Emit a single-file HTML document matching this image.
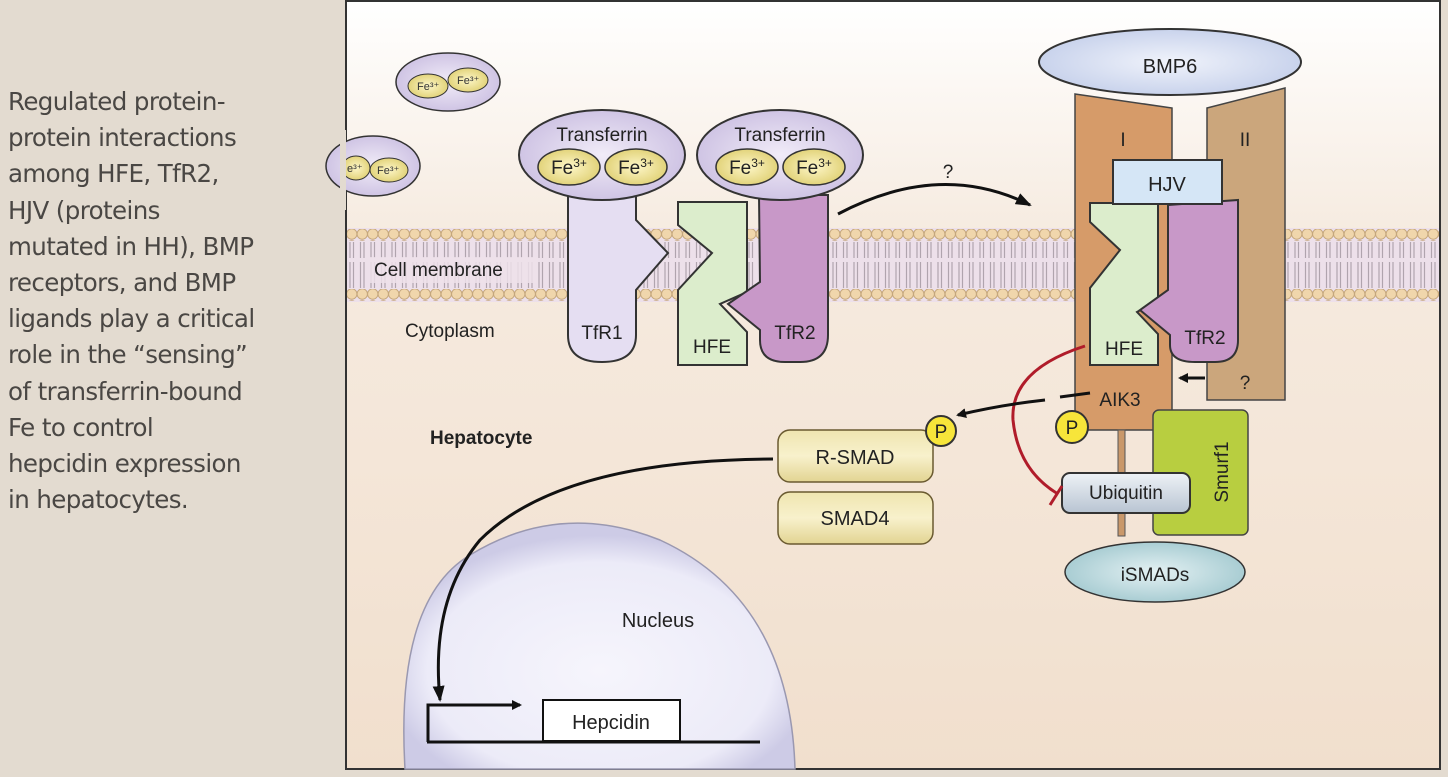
<!DOCTYPE html>
<html><head><meta charset="utf-8"><style>
body{margin:0;width:1448px;height:777px;background:#e3dbd0;overflow:hidden;position:relative;font-family:"Liberation Sans",sans-serif}
#t{position:absolute;left:8px;top:84px;font-size:24.5px;line-height:36.2px;color:#4a4744;font-family:"DejaVu Sans","Liberation Sans",sans-serif;letter-spacing:-0.6px}
svg{position:absolute;left:0;top:0}
</style></head><body>
<div id="t">Regulated protein-<br>protein interactions<br>among HFE, TfR2,<br>HJV (proteins<br>mutated in HH), BMP<br>receptors, and BMP<br>ligands play a critical<br>role in the “sensing”<br>of transferrin-bound<br>Fe to control<br>hepcidin expression<br>in hepatocytes.</div>
<svg width="1448" height="777" viewBox="0 0 1448 777" font-family="Liberation Sans, sans-serif">
<defs>
<linearGradient id="bg" x1="0" y1="0" x2="0" y2="1"><stop offset="0" stop-color="#fff"/><stop offset="0.3" stop-color="#f6ebe0"/><stop offset="1" stop-color="#f1dfcd"/></linearGradient>
<radialGradient id="lav"><stop offset="0" stop-color="#f1ecf8"/><stop offset="1" stop-color="#cfc4e4"/></radialGradient>
<radialGradient id="fe"><stop offset="0" stop-color="#fdf6c8"/><stop offset="1" stop-color="#e2d37a"/></radialGradient>
<radialGradient id="nuc" cx="0.5" cy="0.6" r="0.55"><stop offset="0" stop-color="#f6f5fc"/><stop offset="0.8" stop-color="#ecebf8"/><stop offset="1" stop-color="#cdcbe6"/></radialGradient>
<radialGradient id="bmp"><stop offset="0" stop-color="#f0f3fb"/><stop offset="1" stop-color="#c9d3ec"/></radialGradient>
<radialGradient id="ism"><stop offset="0" stop-color="#e4f1f3"/><stop offset="1" stop-color="#a9cdd3"/></radialGradient>
<linearGradient id="smad" x1="0" y1="0" x2="0" y2="1"><stop offset="0" stop-color="#efe5b0"/><stop offset="0.5" stop-color="#f8f1cc"/><stop offset="1" stop-color="#e2d492"/></linearGradient>
<linearGradient id="ub" x1="0" y1="0" x2="0" y2="1"><stop offset="0" stop-color="#eef2f6"/><stop offset="1" stop-color="#b8c4d2"/></linearGradient>
<pattern id="heads" width="10.5" height="12" patternUnits="userSpaceOnUse"><circle cx="5.25" cy="6" r="5.2" fill="#f0d6ac" stroke="#c4a67c" stroke-width="1"/></pattern>
<pattern id="tails" width="10.5" height="40" patternUnits="userSpaceOnUse"><path d="M3.5 0 L3.5 18 M7 0 L7 18 M3.5 22 L3.5 40 M7 22 L7 40" stroke="#b0a4ae" stroke-width="1.2"/></pattern>
<marker id="ah" markerWidth="10" markerHeight="10" refX="8" refY="5" orient="auto" markerUnits="userSpaceOnUse"><path d="M0 0 L10 5 L0 10 Z" fill="#111"/></marker>
<marker id="ahb" markerWidth="16" markerHeight="12" refX="14" refY="6" orient="auto" markerUnits="userSpaceOnUse"><path d="M0 0 L16 6 L0 12 Z" fill="#111"/></marker>
</defs>
<rect x="346" y="1" width="1094" height="768" fill="url(#bg)" stroke="#333" stroke-width="2"/>
<rect x="347" y="228" width="1092" height="74" fill="#ede0ea"/>
<rect x="347" y="242" width="1092" height="46" fill="url(#tails)"/>
<rect x="347" y="229" width="1092" height="12" fill="url(#heads)"/>
<rect x="347" y="289" width="1092" height="12" fill="url(#heads)"/>
<rect x="370" y="257" width="168" height="26" fill="#ede0ea" opacity="0.85"/>
<text x="374" y="276" font-size="19" fill="#222">Cell membrane</text>
<text x="405" y="337" font-size="19" fill="#222">Cytoplasm</text>
<text x="430" y="444" font-size="19" font-weight="bold" fill="#222">Hepatocyte</text>
<ellipse cx="448" cy="82" rx="52" ry="29" fill="url(#lav)" stroke="#333" stroke-width="1.5"/>
<ellipse cx="428" cy="86" rx="20" ry="12" fill="url(#fe)" stroke="#333"/><ellipse cx="468" cy="80" rx="20" ry="12" fill="url(#fe)" stroke="#333"/>
<text x="417" y="90" font-size="11" fill="#333">Fe³⁺</text><text x="457" y="84" font-size="11" fill="#333">Fe³⁺</text>
<ellipse cx="373" cy="166" rx="47" ry="30" fill="url(#lav)" stroke="#333" stroke-width="1.5"/>
<ellipse cx="356" cy="168" rx="14" ry="12" fill="url(#fe)" stroke="#333"/><ellipse cx="389" cy="170" rx="19" ry="12" fill="url(#fe)" stroke="#333"/>
<text x="347" y="172" font-size="11" fill="#333">e³⁺</text><text x="377" y="174" font-size="11" fill="#333">Fe³⁺</text>
<rect x="340" y="130" width="6" height="80" fill="#e3dbd0"/>
<path d="M568 190 L636 190 L636 220 L668 253 L636 290 L636 335 Q636 362 602 362 Q568 362 568 335 Z" fill="#e5def2" stroke="#333" stroke-width="2"/>
<text x="602" y="339" font-size="19" text-anchor="middle" fill="#222">TfR1</text>
<ellipse cx="602" cy="155" rx="83" ry="45" fill="url(#lav)" stroke="#333" stroke-width="2"/>
<text x="602" y="141" font-size="19" text-anchor="middle" fill="#222">Transferrin</text>
<ellipse cx="569" cy="167" rx="31" ry="18" fill="url(#fe)" stroke="#333" stroke-width="1.5"/><ellipse cx="636" cy="167" rx="31" ry="18" fill="url(#fe)" stroke="#333" stroke-width="1.5"/>
<text x="569" y="174" font-size="19" text-anchor="middle" fill="#222">Fe<tspan font-size="12" dy="-7">3+</tspan></text>
<text x="636" y="174" font-size="19" text-anchor="middle" fill="#222">Fe<tspan font-size="12" dy="-7">3+</tspan></text>
<path d="M678 202 L747 202 L747 292 L720 304 L747 332 L747 365 L678 365 L678 290 L712 253 L678 225 Z" fill="#dcedcc" stroke="#333" stroke-width="2"/>
<text x="712" y="353" font-size="19" text-anchor="middle" fill="#222">HFE</text>
<path d="M759 195 L828 195 L828 335 Q828 362 800 362 L785 362 Q760 362 760 340 L760 330 L728 304 L760 282 Z" fill="#c898c8" stroke="#333" stroke-width="2"/>
<text x="795" y="339" font-size="19" text-anchor="middle" fill="#222">TfR2</text>
<ellipse cx="780" cy="155" rx="83" ry="45" fill="url(#lav)" stroke="#333" stroke-width="2"/>
<text x="780" y="141" font-size="19" text-anchor="middle" fill="#222">Transferrin</text>
<ellipse cx="747" cy="167" rx="31" ry="18" fill="url(#fe)" stroke="#333" stroke-width="1.5"/><ellipse cx="814" cy="167" rx="31" ry="18" fill="url(#fe)" stroke="#333" stroke-width="1.5"/>
<text x="747" y="174" font-size="19" text-anchor="middle" fill="#222">Fe<tspan font-size="12" dy="-7">3+</tspan></text>
<text x="814" y="174" font-size="19" text-anchor="middle" fill="#222">Fe<tspan font-size="12" dy="-7">3+</tspan></text>
<path d="M838 214 Q940 160 1030 205" fill="none" stroke="#111" stroke-width="3" marker-end="url(#ahb)"/>
<text x="948" y="178" font-size="19" text-anchor="middle" fill="#222">?</text>
<path d="M1075 94 L1172 108 L1172 430 L1075 430 Z" fill="#d69b69" stroke="#444" stroke-width="1.5"/>
<path d="M1207 108 L1285 88 L1285 400 L1207 400 Z" fill="#cba67c" stroke="#444" stroke-width="1.5"/>
<text x="1123" y="146" font-size="19" text-anchor="middle" fill="#222">I</text>
<text x="1245" y="146" font-size="19" text-anchor="middle" fill="#222">II</text>
<ellipse cx="1170" cy="62" rx="131" ry="33" fill="url(#bmp)" stroke="#333" stroke-width="2"/>
<text x="1170" y="73" font-size="20" text-anchor="middle" fill="#222">BMP6</text>
<path d="M1090 203 L1158 203 L1158 300 L1137 312 L1158 334 L1158 365 L1090 365 L1090 288 L1120 250 L1090 222 Z" fill="#dcedcc" stroke="#333" stroke-width="2"/>
<text x="1124" y="355" font-size="19" text-anchor="middle" fill="#222">HFE</text>
<path d="M1168 205 L1238 200 L1238 340 Q1238 362 1215 362 L1195 362 Q1170 362 1170 345 L1170 335 L1140 310 L1168 290 Z" fill="#c898c8" stroke="#333" stroke-width="2"/>
<text x="1205" y="344" font-size="19" text-anchor="middle" fill="#222">TfR2</text>
<rect x="1113" y="160" width="109" height="44" fill="#d5e6f6" stroke="#333" stroke-width="2"/>
<text x="1167" y="191" font-size="20" text-anchor="middle" fill="#222">HJV</text>
<text x="1120" y="406" font-size="19" text-anchor="middle" fill="#222">AIK3</text>
<text x="1245" y="389" font-size="19" text-anchor="middle" fill="#222">?</text>
<path d="M1205 378 L1180 378" stroke="#111" stroke-width="3" marker-end="url(#ah)"/>
<rect x="1118" y="430" width="7" height="106" fill="#c9986a" stroke="#555"/>
<rect x="1153" y="410" width="95" height="125" rx="6" fill="#b8ce40" stroke="#444" stroke-width="1.5"/>
<text x="1228" y="472" font-size="19" text-anchor="middle" fill="#222" transform="rotate(-90 1228 472)">Smurf1</text>
<rect x="1062" y="473" width="128" height="40" rx="8" fill="url(#ub)" stroke="#333" stroke-width="2"/>
<text x="1126" y="499" font-size="19" text-anchor="middle" fill="#222">Ubiquitin</text>
<ellipse cx="1155" cy="572" rx="90" ry="30" fill="url(#ism)" stroke="#333" stroke-width="1.5"/>
<text x="1155" y="581" font-size="19" text-anchor="middle" fill="#222">iSMADs</text>
<circle cx="1072" cy="427" r="16" fill="#f7e53a" stroke="#333" stroke-width="2"/>
<text x="1072" y="434" font-size="19" text-anchor="middle" fill="#222">P</text>
<path d="M1085 346 Q1010 370 1013 420 Q1018 470 1058 494" fill="none" stroke="#b01c2a" stroke-width="3"/>
<path d="M1050 505 L1062 486" stroke="#b01c2a" stroke-width="3"/>
<path d="M1090 393 L1060 397" stroke="#111" stroke-width="3"/>
<path d="M1045 400 Q1000 405 958 415" fill="none" stroke="#111" stroke-width="3" marker-end="url(#ah)"/>
<rect x="778" y="430" width="155" height="52" rx="12" fill="url(#smad)" stroke="#6a5a30" stroke-width="1.5"/>
<text x="855" y="464" font-size="20" text-anchor="middle" fill="#222">R-SMAD</text>
<rect x="778" y="492" width="155" height="52" rx="12" fill="url(#smad)" stroke="#6a5a30" stroke-width="1.5"/>
<text x="855" y="525" font-size="20" text-anchor="middle" fill="#222">SMAD4</text>
<circle cx="941" cy="431" r="15" fill="#f7e53a" stroke="#333" stroke-width="2"/>
<text x="941" y="438" font-size="19" text-anchor="middle" fill="#222">P</text>
<path d="M405 769 Q395 600 470 555 Q560 500 660 540 Q790 600 795 769 Z" fill="url(#nuc)" stroke="#9a98b0" stroke-width="1.5"/>
<text x="658" y="627" font-size="20" text-anchor="middle" fill="#222">Nucleus</text>
<path d="M773 459 Q560 460 480 540 Q430 600 440 700" fill="none" stroke="#111" stroke-width="3" marker-end="url(#ahb)"/>
<path d="M428 742 L428 705 L520 705" fill="none" stroke="#111" stroke-width="3" marker-end="url(#ah)"/>
<rect x="543" y="700" width="137" height="41" fill="#fff" stroke="#111" stroke-width="2"/>
<text x="611" y="729" font-size="20" text-anchor="middle" fill="#222">Hepcidin</text>
<path d="M427 742 L760 742" stroke="#111" stroke-width="3"/>
</svg>
</body></html>
